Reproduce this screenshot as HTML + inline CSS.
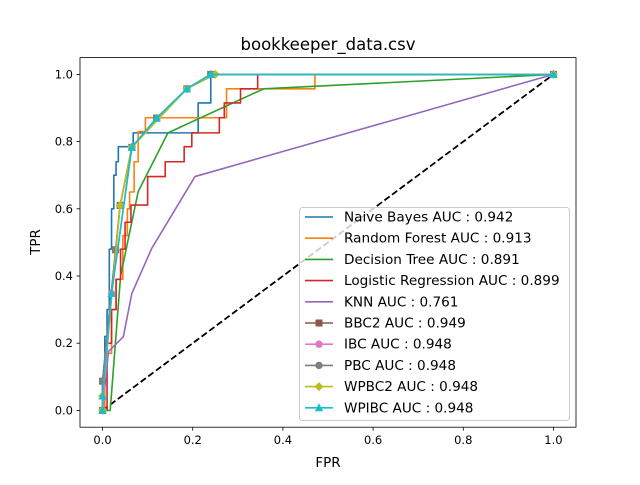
<!DOCTYPE html>
<html><head><meta charset="utf-8"><style>
body{margin:0;background:#fff;font-family:"Liberation Sans","DejaVu Sans",sans-serif}
svg text{font-family:"DejaVu Sans","Liberation Sans",sans-serif}
</style></head><body>
<svg id="chart" width="640" height="480" xmlns="http://www.w3.org/2000/svg">
<rect width="640" height="480" fill="#fff"/>
<text x="328" y="50" text-anchor="middle" font-size="16.5">bookkeeper_data.csv</text>
<text x="328" y="467" text-anchor="middle" font-size="13.5">FPR</text>
<text transform="translate(40,242) rotate(-90)" text-anchor="middle" font-size="13.5">TPR</text>
<g id="plot"></g>
</svg>
<script>
const xTicks=[0,0.2,0.4,0.6,0.8,1.0];
const yTicks=[0,0.2,0.4,0.6,0.8,1.0];
const tickLabels=["0.0","0.2","0.4","0.6","0.8","1.0"];
const names=["Naive Bayes AUC : 0.942","Random Forest AUC : 0.913","Decision Tree AUC : 0.891","Logistic Regression AUC : 0.899","KNN AUC : 0.761","BBC2 AUC : 0.949","IBC AUC : 0.948","PBC AUC : 0.948","WPBC2 AUC : 0.948","WPIBC AUC : 0.948"];
const nbF=[0,0,0.005,0.005,0.01,0.01,0.015,0.015,0.02,0.02,0.025,0.025,0.03,0.03,0.035,0.035,0.068,0.068,0.212,0.212,0.24,0.24,1];
const nbT=[0,0.09,0.09,0.22,0.22,0.3,0.3,0.48,0.48,0.6,0.6,0.7,0.7,0.74,0.74,0.785,0.785,0.826,0.826,0.915,0.915,1,1];
const rfF=[0,0.005,0.005,0.02,0.02,0.03,0.03,0.045,0.045,0.055,0.055,0.06,0.06,0.07,0.07,0.079,0.079,0.095,0.095,0.275,0.275,0.471,0.471,1];
const rfT=[0,0,0.17,0.17,0.3,0.3,0.39,0.39,0.52,0.52,0.6,0.6,0.65,0.65,0.74,0.74,0.83,0.83,0.871,0.871,0.957,0.957,1,1];
const dtF=[0,0.017,0.04,0.079,0.145,0.357,1];
const dtT=[0,0,0.4,0.651,0.826,0.957,1];
const lrF=[0,0.01,0.01,0.02,0.02,0.03,0.03,0.04,0.04,0.05,0.05,0.063,0.063,0.1,0.1,0.139,0.139,0.181,0.181,0.198,0.198,0.259,0.259,0.27,0.27,0.306,0.306,0.344,0.344,1];
const lrT=[0,0,0.2,0.2,0.3,0.3,0.39,0.39,0.48,0.48,0.56,0.56,0.611,0.611,0.696,0.696,0.74,0.74,0.785,0.785,0.826,0.826,0.871,0.871,0.915,0.915,0.957,0.957,1,1];
const knnF=[0,0.013,0.046,0.065,0.109,0.205,1];
const knnT=[0,0.175,0.219,0.348,0.482,0.696,1];
const bbcF=[0,0,0.029,0.039,0.065,0.12,0.187,0.24,1];
const bbcT=[0,0.087,0.478,0.61,0.783,0.87,0.957,1,1];
const ibcF=[0,0.02,0.065,0.12,0.187,0.24,1];
const ibcT=[0,0.348,0.783,0.87,0.957,1,1];
const pbcF=[0,0,0.029,0.039,0.065,0.12,0.187,0.24,1];
const pbcT=[0,0.087,0.478,0.61,0.783,0.87,0.957,1,1];
const wpbF=[0,0,0.039,0.065,0.187,0.25,1];
const wpbT=[0,0.043,0.61,0.783,0.957,1,1];
const wpiF=[0,0,0.02,0.065,0.12,0.187,0.24,1];
const wpiT=[0,0.043,0.348,0.783,0.87,0.957,1,1];

const L=80,R=576,T=57.6,B=427.2;
const sx=v=>L+(v+0.05)/1.1*(R-L);
const sy=v=>B-(v+0.05)/1.1*(B-T);
const NS="http://www.w3.org/2000/svg";
const g=document.getElementById('plot');
function mk(tag,attrs,parent){const e=document.createElementNS(NS,tag);for(const k in attrs)e.setAttribute(k,attrs[k]);(parent||g).appendChild(e);return e;}
xTicks.forEach((v,i)=>{
 const t=mk('line',{x1:sx(v),x2:sx(v),y1:B,y2:B+3.5,stroke:'#000','stroke-width':0.8});
 
 
 const tx=mk('text',{x:sx(v),y:B+17,'text-anchor':'middle','font-size':11.5});
 tx.textContent=tickLabels[i];
 
 
});
yTicks.forEach((v,i)=>{
 const t=mk('line',{x1:L-3.5,x2:L,y1:sy(v),y2:sy(v),stroke:'#000','stroke-width':0.8});
 
 
 const tx=mk('text',{x:L-7,y:sy(v)+4,'text-anchor':'end','font-size':11.5});
 tx.textContent=tickLabels[i];
 
 
});
const dg=mk('line',{x1:sx(0),y1:sy(0),x2:sx(1),y2:sy(1),stroke:'#000','stroke-width':1.8,'stroke-dasharray':'6.5,3'});


const series=[
 [nbF,nbT,'#1f77b4',null],[rfF,rfT,'#ff7f0e',null],[dtF,dtT,'#2ca02c',null],[lrF,lrT,'#d62728',null],[knnF,knnT,'#9467bd',null],
 [bbcF,bbcT,'#8c564b','s'],[ibcF,ibcT,'#e377c2','o'],[pbcF,pbcT,'#7f7f7f','o'],[wpbF,wpbT,'#bcbd22','D'],[wpiF,wpiT,'#17becf','^']];
function marker(type,x,y,c,par){
 let e;
 if(type==='s')e=mk('rect',{x:x-3.5,y:y-3.5,width:7,height:7,fill:c},par);
 else if(type==='o')e=mk('circle',{cx:x,cy:y,r:3.7,fill:c},par);
 else if(type==='D')e=mk('polygon',{points:`${x},${y-4.5} ${x+4.5},${y} ${x},${y+4.5} ${x-4.5},${y}`,fill:c},par);
 else e=mk('polygon',{points:`${x},${y-4.5} ${x+4.2},${y+3.5} ${x-4.2},${y+3.5}`,fill:c},par);
 return e;
}
series.forEach((s,i)=>{
 const sg=mk('g',{});
 
 
 const pts=s[0].map((f,j)=>sx(f)+','+sy(s[1][j])).join(' ');
 const pl=mk('polyline',{points:pts,fill:'none',stroke:s[2],'stroke-width':1.6,'stroke-linejoin':'round'},sg);
 
 
 if(s[3]) s[0].forEach((f,j)=>{const m=marker(s[3],sx(f),sy(s[1][j]),s[2],sg);
  
  });
});
const fr=mk('rect',{x:L,y:T,width:R-L,height:B-T,fill:'none',stroke:'#000','stroke-width':0.8});


const lg=mk('g',{});


mk('rect',{x:299.5,y:207.5,width:270,height:213,rx:3,fill:'#fff','fill-opacity':0.8,stroke:'#ccc','stroke-width':1},lg);
names.forEach((n,i)=>{
 const y=217+i*21.2;
 const eg=mk('g',{},lg);
 
 
 mk('line',{x1:305,x2:333,y1:y,y2:y,stroke:series[i][2],'stroke-width':1.6},eg);
 if(series[i][3]) marker(series[i][3],319,y,series[i][2],eg);
 const t=mk('text',{x:344,y:y+4.5,'font-size':13.6},eg);
 t.textContent=n;
});
</script>
</body></html>
